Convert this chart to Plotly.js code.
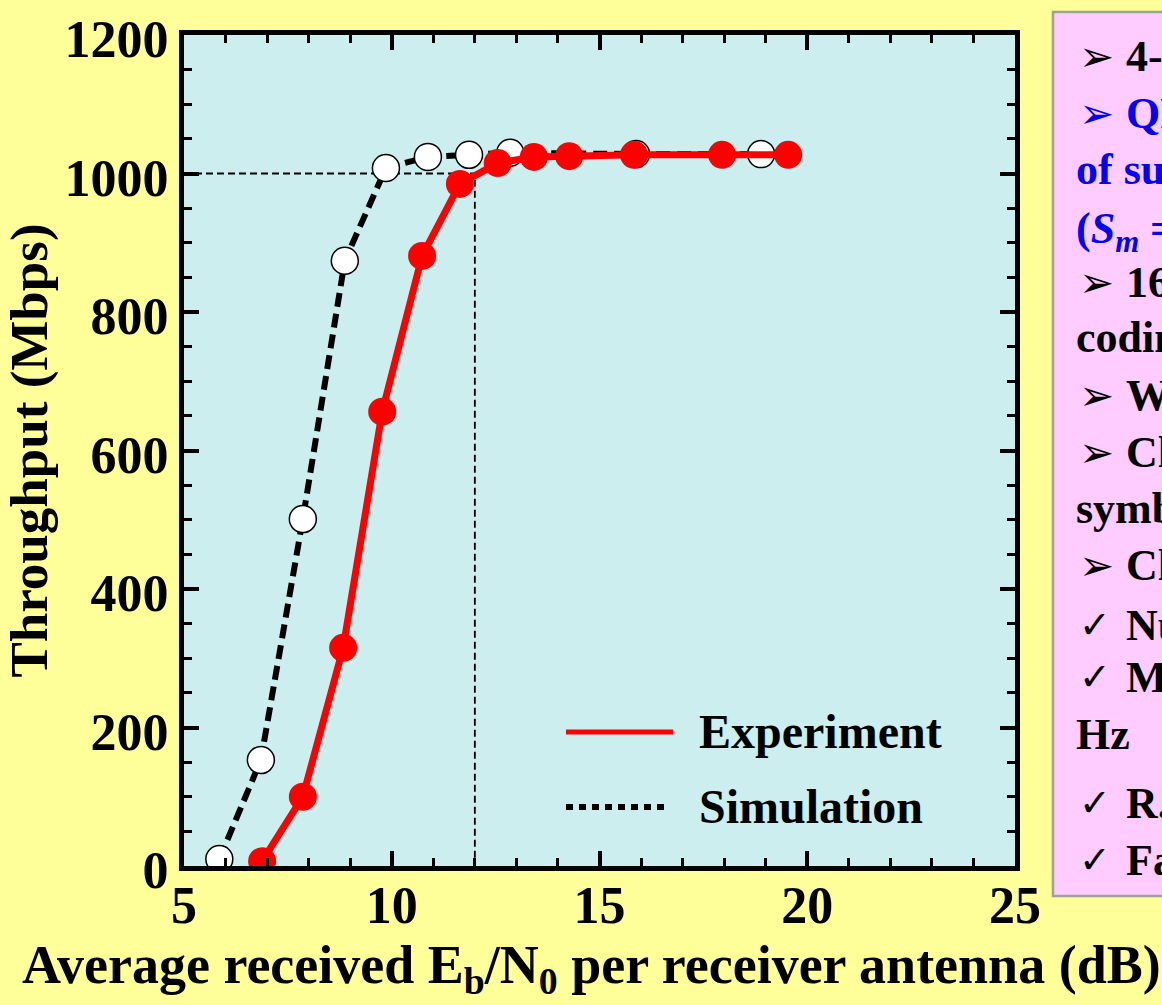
<!DOCTYPE html>
<html>
<head>
<meta charset="utf-8">
<script src="https://cdn.plot.ly/plotly-3.0.1.min.js"></script>
<style>html,body{margin:0;padding:0;background:#FFFF99;}#chart{width:1162px;height:1005px;}</style>
</head>
<body>
<div id="chart"></div>
<script>
// Simulation (white circles, dashed black)
const simX = [5.85, 6.85, 7.86, 8.87, 9.86, 10.87, 11.86, 12.85, 15.88, 18.89];
const simY = [10, 153, 501, 874, 1008, 1024, 1027, 1030, 1028, 1028];
// Experiment (red filled circles, solid red)
const expX = [6.88, 7.86, 8.83, 9.77, 10.73, 11.64, 12.55, 13.42, 14.27, 15.83, 17.95, 19.54];
const expY = [7, 100, 315, 656, 881, 985, 1015, 1024, 1025, 1027, 1027, 1027];
// 1000 Mbps guide at 12 dB
const refX = [5, 12, 12];
const refY = [1000, 1000, 0];
// Axis ticks
const xTicks = [5, 10, 15, 20, 25];
const yTicks = [0, 200, 400, 600, 800, 1000, 1200];
// Legend labels
const legendNames = ['Experiment', 'Simulation'];
// Side panel text lines
const panelBullets = ['➢', '➢', '', '', '➢', '', '➢', '➢', '', '➢', '✓', '✓', '', '✓', '✓'];
const panelTexts = [
  '4-by-4 MIMO-OFDM',
  'QRM-MLD with reduced number',
  'of surviving symbol replicas',
  '(<i>S</i><sub><i>m</i></sub> = 16)',
  '16QAM, Turbo',
  'coding rate = 8/9',
  'W = 101.5 MHz',
  'Channel estimation using pilot',
  'symbols',
  'Channel model',
  'Number of paths: 24',
  'Maximum Doppler frequency: 20',
  'Hz',
  'R.m.s. delay spread',
  'Fading'
];
const panelColors = ['#000000', '#0000FF', '#0000FF', '#0000FF', '#000000', '#000000', '#000000', '#000000', '#000000', '#000000', '#000000', '#000000', '#000000', '#000000', '#000000'];
const panelLineY = [56, 114, 169, 226, 282, 338, 395, 452, 508, 565, 625, 677, 734, 803, 860];

const SERIF = 'Liberation Serif, Times New Roman, serif';
const L = 184, R = 1015, T = 35, B = 866;
const W = R - L, H = B - T;
const px = x => (x - L) / W;
const py = y => (B - y) / H;

const traces = [
  {x: refX, y: refY, mode: 'lines', showlegend: false, hoverinfo: 'skip',
   line: {color: '#000000', width: 1.8, dash: '7px,4px'}},
  {x: simX, y: simY, mode: 'lines+markers', name: legendNames[1], showlegend: false,
   line: {color: '#000000', width: 6, dash: '14px,7px'},
   marker: {size: 27, color: '#FFFFFF', line: {color: '#000000', width: 1.5}}},
  {x: expX, y: expY, mode: 'lines+markers', name: legendNames[0], showlegend: false,
   line: {color: '#FF0000', width: 7},
   marker: {size: 28, color: '#FF0000', line: {width: 0}}}
];

const shapes = [
  {type: 'rect', xref: 'paper', yref: 'paper', x0: px(1053), x1: px(1200), y0: py(896), y1: py(12),
   fillcolor: '#FFCCFF', line: {color: '#A0A0A0', width: 2.5}, layer: 'below'},
  {type: 'line', xref: 'paper', yref: 'paper', x0: px(566), x1: px(673), y0: py(732), y1: py(732),
   line: {color: '#FF0000', width: 5}},
  {type: 'line', xref: 'paper', yref: 'paper', x0: px(566), x1: px(670), y0: py(807), y1: py(807),
   line: {color: '#000000', width: 6, dash: '7px,6px'}}
];

const annotations = [
  {xref: 'paper', yref: 'paper', x: px(697), y: py(731), xanchor: 'left', yanchor: 'middle', showarrow: false,
   text: legendNames[0], font: {family: SERIF, size: 48, weight: 'bold', color: '#000000'}},
  {xref: 'paper', yref: 'paper', x: px(697), y: py(806), xanchor: 'left', yanchor: 'middle', showarrow: false,
   text: legendNames[1], font: {family: SERIF, size: 48, weight: 'bold', color: '#000000'}},
  {xref: 'paper', yref: 'paper', x: px(591), y: py(933), xanchor: 'center', yanchor: 'top', showarrow: false,
   text: 'Average received E<sub>b</sub>/N<sub>0</sub> per receiver antenna (dB)',
   font: {family: SERIF, size: 54, weight: 'bold', color: '#000000'}}
];

for (let i = 0; i < panelTexts.length; i++) {
  const cy = panelLineY[i];
  const hasB = panelBullets[i] !== '';
  if (hasB) {
    const isArrow = panelBullets[i] === '➢';
    annotations.push({xref: 'paper', yref: 'paper', x: px(1077), y: py(cy), xanchor: 'left', yanchor: 'middle',
      showarrow: false, text: panelBullets[i],
      font: {family: 'DejaVu Sans', size: isArrow ? 42 : 38, color: panelColors[i]}});
  }
  annotations.push({xref: 'paper', yref: 'paper', x: px(hasB ? 1124 : 1074), y: py(cy), xanchor: 'left', yanchor: 'middle',
    showarrow: false, text: panelTexts[i], yshift: i === 3 ? -6 : 0,
    font: {family: SERIF, size: 44, weight: 'bold', color: panelColors[i]}});
}

const axisCommon = {
  showline: true, linewidth: 5, linecolor: '#000000', mirror: 'allticks',
  ticks: 'inside', ticklen: 15, tickwidth: 4, tickcolor: '#000000',
  showgrid: false, zeroline: false, automargin: false,
  tickfont: {family: SERIF, size: 52, weight: 'bold', color: '#000000'}
};

const layout = {
  width: 1162, height: 1005,
  paper_bgcolor: '#FFFF99', plot_bgcolor: '#CCEEEE',
  margin: {l: L, r: 1162 - R, t: T, b: 1005 - B},
  showlegend: false,
  xaxis: Object.assign({}, axisCommon, {
    range: [5, 25], tickmode: 'array', tickvals: xTicks, ticktext: xTicks.map(String),
    ticklabelstandoff: -10,
    minor: {dtick: 1, ticks: 'inside', ticklen: 8, tickwidth: 3, tickcolor: '#000000'}
  }),
  yaxis: Object.assign({}, axisCommon, {
    range: [0, 1200], tickmode: 'array', tickvals: yTicks, ticktext: yTicks.map(String),
    ticklabelshift: 4,
    minor: {dtick: 50, ticks: 'inside', ticklen: 8, tickwidth: 3, tickcolor: '#000000'},
    title: {text: 'Throughput (Mbps)', standoff: 6,
      font: {family: SERIF, size: 53, weight: 'bold', color: '#000000'}}
  }),
  shapes: shapes,
  annotations: annotations
};

Plotly.newPlot('chart', traces, layout, {displayModeBar: false, staticPlot: true});
</script>
</body>
</html>
